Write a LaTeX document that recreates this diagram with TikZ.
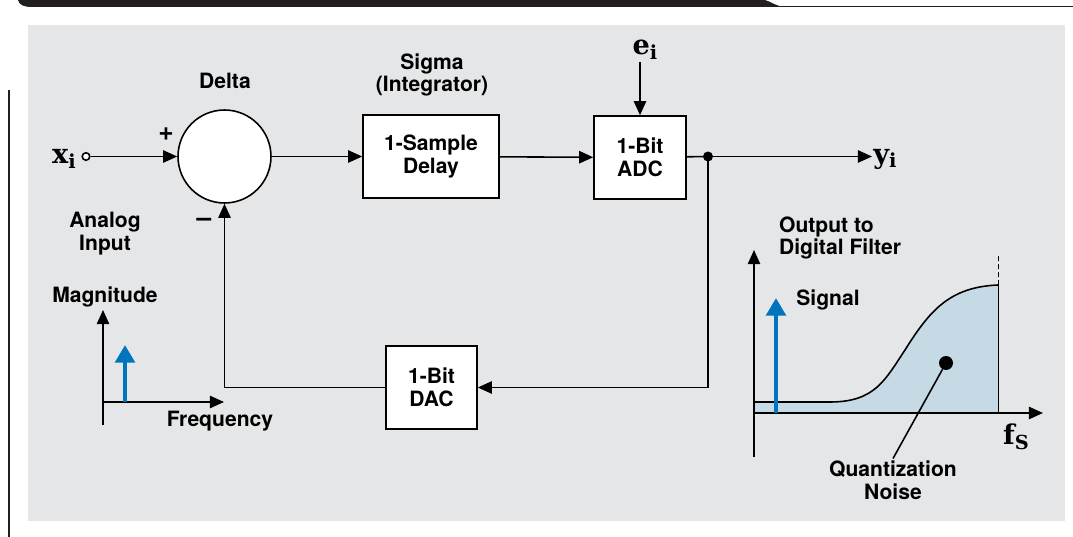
\documentclass[tikz,border=0pt]{standalone}
\usepackage{fontspec}
\setsansfont{TeX Gyre Heros}
\newfontfamily\varfont{DejaVu Serif}
\usetikzlibrary{arrows.meta,positioning,calc}
\definecolor{topdark}{RGB}{35,31,32}
\definecolor{panelgray}{RGB}{229,230,232}
\definecolor{sigblue}{RGB}{0,117,190}
\definecolor{noisefill}{RGB}{198,218,230}
\newcommand{\bvar}[2]{#1\raisebox{-0.35ex}{\fontsize{11}{11}\selectfont #2}}
\tikzset{
  lbl/.style={font=\sffamily\bfseries\fontsize{12}{13}\selectfont, align=center, inner sep=1pt},
  var/.style={font=\varfont\bfseries\fontsize{15.5}{17}\selectfont, inner sep=1pt},
  blockbox/.style={draw, fill=white, line width=0.9pt, minimum height=1.66cm, lbl},
  sumcirc/.style={draw, fill=white, circle, line width=0.9pt, minimum size=1.86cm, inner sep=0pt},
  flow/.style={line width=0.9pt, -{Triangle[length=8pt,width=7pt]}},
  wire/.style={line width=0.9pt},
  sigarrow/.style={sigblue, line width=2.4pt, -{Triangle[length=10pt,width=11pt]}}
}
\begin{document}
\begin{tikzpicture}[x=0.02cm, y=-0.02cm]
  \useasboundingbox (0,0) rectangle (1073,537);
  % page frame
  \fill[topdark] (18,0) .. controls (19,5) and (24,7) .. (32,7) -- (785,7) .. controls (775,6) and (772,2) .. (765,0) -- cycle;
  \draw[topdark, line width=0.8pt] (780,6.3) -- (1073,6.3);
  \draw[topdark, line width=1.1pt] (9,90) -- (9,537);
  \fill[panelgray] (28,25) rectangle (1065,521);

  % loop blocks
  \node[sumcirc] (delta) at (224.5,156.5) {};
  \node[blockbox, minimum width=2.72cm] (delay) at (431,156.5) {1-Sample\\Delay};
  \node[blockbox, minimum width=1.84cm] (adc) at (640,157.5) {1-Bit\\ADC};
  \node[blockbox, minimum width=1.82cm] (dac) at (431.5,387.5) {1-Bit\\DAC};
  \node[circle, draw, fill=white, line width=0.9pt, inner sep=0pt, minimum size=0.15cm] (xin) at (86,156.5) {};
  \coordinate (jn) at (708,156.5);
  \coordinate (yout) at (872,156.5);

  % labels
  \node[lbl] (deltalbl) at (225,81) {Delta};
  \node[lbl] (sigmalbl) at (432,75) {Sigma\\(Integrator)};
  \node[lbl] (analoglbl) at (105,234) {Analog\\Input};
  \node[lbl, font=\sffamily\bfseries\fontsize{15}{15}\selectfont] (plus) at (166,134) {+};
  \node[lbl, font=\sffamily\bfseries\fontsize{15}{15}\selectfont] (minus) at (204,222) {\textendash};
  \node[var] (xlbl) at (64,159) {\bvar{x}{i}};
  \node[var] (ylbl) at (885,159) {\bvar{y}{i}};
  \node[var] (ei) at (645,50) {\bvar{e}{i}};

  % connectors
  \draw[flow] (xin) -- (delta);
  \draw[flow] (delta) -- (delay);
  \draw[flow] (delay) -- (adc);
  \draw[flow] (adc.north |- ei.south) -- (adc.north);
  \draw[wire] (adc) -- (jn);
  \draw[flow] (jn) -- (yout);
  \draw[flow] (jn) |- (dac);
  \draw[flow] (dac) -| (delta);
  \fill (jn) circle (0.1cm);

  % input spectrum
  \draw[flow] (103,425) -- (103,310);
  \draw[flow] (103,402) -- (224,402);
  \draw[sigarrow] (125,402) -- (125,345);
  \node[lbl] (maglbl) at (105,297) {Magnitude};
  \node[lbl] (freqlbl) at (220,421) {Frequency};

  % output spectrum
  \fill[noisefill] (754,413) -- (754,402) -- (830,402) .. controls (875,402) and (885,380) .. (905,350) .. controls (930,310) and (950,287) .. (998,285) -- (998,413) -- cycle;
  \draw[wire] (754,402) -- (830,402) .. controls (875,402) and (885,380) .. (905,350) .. controls (930,310) and (950,287) .. (998,285);
  \draw[wire] (998.5,285) -- (998.5,413);
  \draw[wire, dash pattern=on 3pt off 1.5pt] (998.5,285) -- (998.5,255);
  \draw[flow] (754,457) -- (754,250);
  \draw[flow] (754,413) -- (1043,413);
  \draw[sigarrow] (776,413) -- (776,298);
  \node[circle, fill, inner sep=0pt, minimum size=0.28cm] (qdot) at (946,363) {};
  \node[lbl] (qlbl) at (893,480) {Quantization\\Noise};
  \draw[wire] (qdot) -- (qlbl.north);
  \node[lbl] (siglbl) at (828,300) {Signal};
  \node[lbl, anchor=west, align=left] (outlbl) at (777,238) {Output to\\Digital Filter};
  \node[var] (fslbl) at (1016,437) {\bvar{f}{S}};
\end{tikzpicture}
\end{document}
